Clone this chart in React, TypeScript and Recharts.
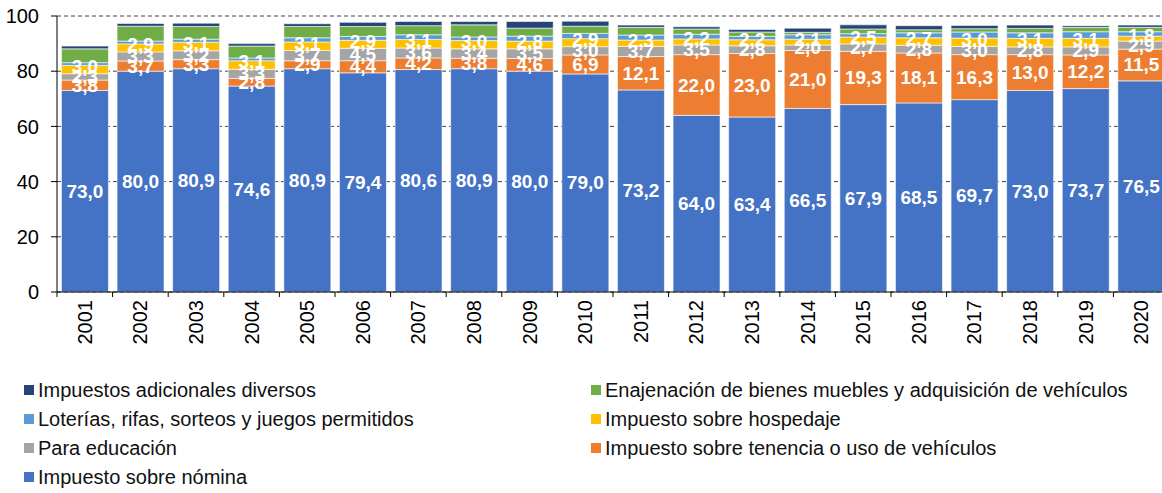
import { BarChart, Bar, XAxis, YAxis, CartesianGrid, LabelList } from "recharts";

const YEARS = ["2001", "2002", "2003", "2004", "2005", "2006", "2007", "2008", "2009", "2010", "2011", "2012", "2013", "2014", "2015", "2016", "2017", "2018", "2019", "2020"];
const NOMINA = [73.0, 80.0, 80.9, 74.6, 80.9, 79.4, 80.6, 80.9, 80.0, 79.0, 73.2, 64.0, 63.4, 66.5, 67.9, 68.5, 69.7, 73.0, 73.7, 76.5];
const TENENCIA = [3.8, 3.7, 3.3, 2.8, 2.9, 4.4, 4.2, 3.8, 4.6, 6.9, 12.1, 22.0, 23.0, 21.0, 19.3, 18.1, 16.3, 13.0, 12.2, 11.5];
const EDUCACION = [2.3, 3.3, 3.2, 3.3, 3.7, 4.5, 3.6, 3.4, 3.5, 3.0, 3.7, 3.5, 2.8, 2.0, 2.7, 2.8, 3.0, 2.8, 2.9, 2.9];
const HOSPEDAJE = [3.0, 2.9, 3.1, 3.1, 3.1, 2.9, 3.1, 3.0, 2.8, 2.9, 2.3, 2.2, 2.2, 2.1, 2.5, 2.7, 3.0, 3.1, 3.1, 1.8];
const LOTERIAS = [1.0, 1.0, 1.1, 1.0, 1.5, 1.4, 1.7, 1.3, 1.8, 1.9, 1.8, 1.7, 1.2, 1.6, 1.2, 1.8, 2.2, 2.0, 2.4, 1.6];
const ENAJENACION = [5.0, 5.4, 4.6, 4.3, 4.1, 3.6, 3.3, 4.4, 2.9, 2.6, 2.8, 1.9, 1.6, 0.9, 1.7, 1.1, 1.2, 1.6, 1.6, 1.6];
const ADICIONALES = [1.0, 1.0, 1.2, 0.9, 1.0, 1.5, 1.5, 1.2, 2.4, 1.8, 0.8, 0.8, 0.9, 1.5, 1.5, 1.5, 1.2, 1.2, 0.6, 0.8];
const Y_TICKS = [0, 20, 40, 60, 80, 100];

// bottom to top stacking order
const SERIES = [
    { key: "nomina", name: "Impuesto sobre nómina", color: "#4472C4", labeled: true, dy: 0 },
    { key: "tenencia", name: "Impuesto sobre tenencia o uso de vehículos", color: "#ED7D31", labeled: true, dy: 0 },
    { key: "educacion", name: "Para educación", color: "#A5A5A5", labeled: true, dy: 0 },
    { key: "hospedaje", name: "Impuesto sobre hospedaje", color: "#FFC000", labeled: true, dy: -3 },
    { key: "loterias", name: "Loterías, rifas, sorteos y juegos permitidos", color: "#5B9BD5", labeled: false, dy: 0 },
    { key: "enajenacion", name: "Enajenación de bienes muebles y adquisición de vehículos", color: "#70AD47", labeled: false, dy: 0 },
    { key: "adicionales", name: "Impuestos adicionales diversos", color: "#264478", labeled: false, dy: 0 },
];

const LEGEND_ROWS = [
    ["adicionales", "enajenacion"],
    ["loterias", "hospedaje"],
    ["educacion", "tenencia"],
    ["nomina"],
];

const data = YEARS.map((year, i) => ({
    year,
    nomina: NOMINA[i],
    tenencia: TENENCIA[i],
    educacion: EDUCACION[i],
    hospedaje: HOSPEDAJE[i],
    loterias: LOTERIAS[i],
    enajenacion: ENAJENACION[i],
    adicionales: ADICIONALES[i],
}));

const CHART_W = 1170;
const CHART_H = 380;
const Y_W = 57;
const MARGIN = { top: 16, right: 1, bottom: 0, left: 0 };
const BAND = (CHART_W - Y_W - MARGIN.right - MARGIN.left) / YEARS.length;
const FONT = "'Liberation Sans', Arial, sans-serif";

const fmt = (v: number) => v.toFixed(1).replace(".", ",");

function YearTick(props: any) {
    const { x, y, payload, index } = props;
    const ty = y + 8;
    return (
        <g>
            <line x1={x - BAND / 2} y1={y} x2={x - BAND / 2} y2={y + 5} stroke="#000" />
            {index === YEARS.length - 1 && <line x1={x + BAND / 2} y1={y} x2={x + BAND / 2} y2={y + 5} stroke="#000" />}
            <text
                x={x}
                y={ty}
                transform={`rotate(-90, ${x}, ${ty})`}
                textAnchor="end"
                dominantBaseline="central"
                fontSize={20}
                fontFamily={FONT}
                fill="#000"
            >
                {payload.value}
            </text>
        </g>
    );
}

function makeLabel(dy: number) {
    return (props: any) => {
        const { x, y, width, height, value } = props;
        return (
            <text
                x={x + width / 2}
                y={y + height / 2 + dy}
                textAnchor="middle"
                dominantBaseline="central"
                fill="#fff"
                fontSize={19}
                fontWeight="bold"
                fontFamily={FONT}
            >
                {fmt(value)}
            </text>
        );
    };
}

export default function App() {
    const byKey: Record<string, (typeof SERIES)[number]> = {};
    SERIES.forEach((s) => (byKey[s.key] = s));
    return (
        <div style={{ position: "absolute", left: 0, top: 0, width: 1162, height: 493, overflow: "hidden", background: "#fff", fontFamily: FONT }}>
            <BarChart width={CHART_W} height={CHART_H} data={data} margin={MARGIN} barCategoryGap="8%">
                <CartesianGrid vertical={false} stroke="#404040" strokeDasharray="4 3" />
                <XAxis
                    dataKey="year"
                    height={CHART_H - 292}
                    tickLine={false}
                    tickSize={0}
                    tickMargin={0}
                    axisLine={{ stroke: "#000" }}
                    tick={<YearTick />}
                    interval={0}
                />
                <YAxis
                    width={Y_W}
                    domain={[0, 100]}
                    ticks={Y_TICKS}
                    tickSize={6}
                    tickMargin={12}
                    axisLine={{ stroke: "#000" }}
                    tickLine={{ stroke: "#000" }}
                    tick={{ fill: "#000", fontSize: 20, fontFamily: FONT }}
                />
                {SERIES.map((s) => (
                    <Bar key={s.key} dataKey={s.key} name={s.name} stackId="a" fill={s.color} stroke="#ffffff" strokeWidth={0.6} isAnimationActive={false}>
                        {s.labeled && <LabelList dataKey={s.key} content={makeLabel(s.dy)} />}
                    </Bar>
                ))}
            </BarChart>
            {LEGEND_ROWS.map((row, r) =>
                row.map((key, c) => (
                    <div
                        key={key}
                        style={{
                            position: "absolute",
                            left: c === 0 ? 24 : 591,
                            top: 390 + r * 29 - 11,
                            height: 22,
                            display: "flex",
                            alignItems: "center",
                            fontSize: 20,
                            color: "#111",
                            whiteSpace: "nowrap",
                        }}
                    >
                        <span style={{ width: 10, height: 10, background: byKey[key].color, marginRight: 4, flexShrink: 0 }} />
                        <span>{byKey[key].name}</span>
                    </div>
                ))
            )}
        </div>
    );
}
